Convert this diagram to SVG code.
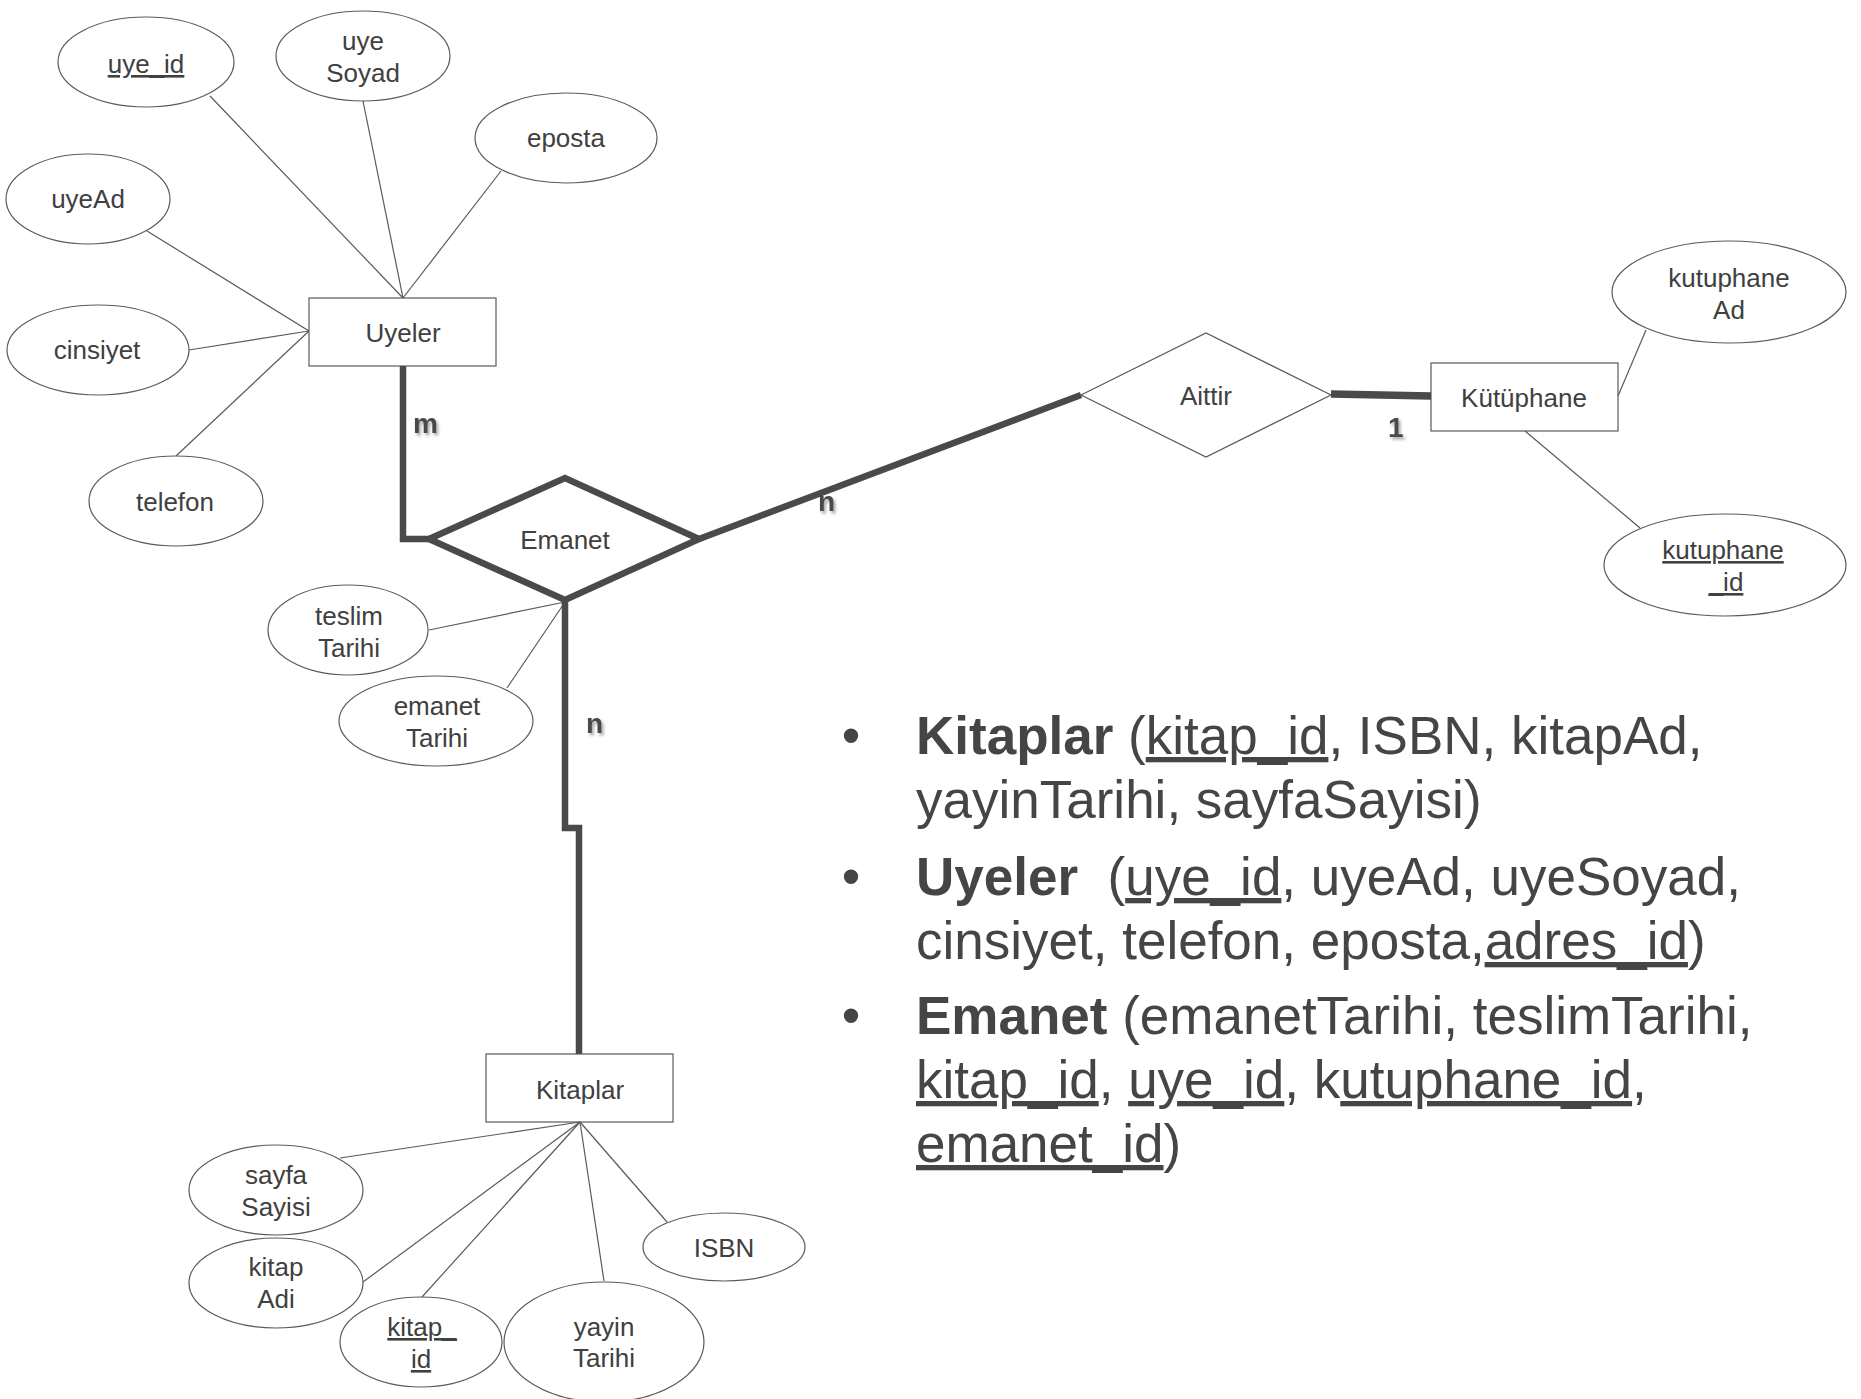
<svg xmlns="http://www.w3.org/2000/svg" width="1861" height="1399" viewBox="0 0 1861 1399">
<defs>
<style>
.bg{fill:#ffffff}
.shape{fill:#ffffff;stroke:#5a5a5a;stroke-width:1.2}
.thin{stroke:#5a5a5a;stroke-width:1.2;fill:none}
.thick{stroke:#4a4a4a;stroke-width:6.5;fill:none;stroke-linejoin:miter}
.lbl{font-family:"Liberation Sans",Arial,sans-serif;font-size:26px;fill:#404040;text-anchor:middle}
.card{font-family:"Liberation Sans",Arial,sans-serif;font-size:28px;font-weight:bold;fill:#4a4a4a;filter:url(#sh)}
.body{font-family:"Liberation Sans",Arial,sans-serif;font-size:53px;fill:#454545}
.u{text-decoration:underline}
</style>
<filter id="sh" x="-50%" y="-50%" width="200%" height="200%">
<feDropShadow dx="2" dy="2.5" stdDeviation="1.5" flood-color="#000000" flood-opacity="0.35"/>
</filter>
</defs>
<rect class="bg" x="0" y="0" width="1861" height="1399"/>

<g id="Uyeler"><rect class="shape" x="309" y="298" width="187" height="68"/><text class="lbl" x="403" y="342">Uyeler</text></g>
<g id="Kutuphane"><rect class="shape" x="1431" y="363" width="187" height="68"/><text class="lbl" x="1524" y="407">Kütüphane</text></g>
<g id="Kitaplar"><rect class="shape" x="486" y="1054" width="187" height="68"/><text class="lbl" x="580" y="1099">Kitaplar</text></g>

<g id="Aittir"><polygon class="shape" points="1081,395 1206,333 1331,395 1206,457"/><text class="lbl" x="1206" y="405">Aittir</text></g>
<g id="Emanet"><polygon class="thick" style="fill:#ffffff" points="429,539 565,478 699,539 565,600"/><text class="lbl" x="565" y="549">Emanet</text></g>

<g id="attr-uye_id"><ellipse class="shape" cx="146" cy="62" rx="88" ry="45"/><text class="lbl u" x="146" y="73">uye_id</text></g>
<g id="attr-uyeSoyad"><ellipse class="shape" cx="363" cy="56" rx="87" ry="45"/><text class="lbl" x="363" y="50">uye</text><text class="lbl" x="363" y="82">Soyad</text></g>
<g id="attr-eposta"><ellipse class="shape" cx="566" cy="138" rx="91" ry="45"/><text class="lbl" x="566" y="147">eposta</text></g>
<g id="attr-uyeAd"><ellipse class="shape" cx="88" cy="199" rx="82" ry="45"/><text class="lbl" x="88" y="208">uyeAd</text></g>
<g id="attr-cinsiyet"><ellipse class="shape" cx="98" cy="350" rx="91" ry="45"/><text class="lbl" x="97" y="359">cinsiyet</text></g>
<g id="attr-telefon"><ellipse class="shape" cx="176" cy="501" rx="87" ry="45"/><text class="lbl" x="175" y="511">telefon</text></g>
<g id="attr-teslimTarihi"><ellipse class="shape" cx="348" cy="630" rx="80" ry="45"/><text class="lbl" x="349" y="625">teslim</text><text class="lbl" x="349" y="657">Tarihi</text></g>
<g id="attr-emanetTarihi"><ellipse class="shape" cx="436" cy="721" rx="97" ry="45"/><text class="lbl" x="437" y="715">emanet</text><text class="lbl" x="437" y="747">Tarihi</text></g>
<g id="attr-kutuphaneAd"><ellipse class="shape" cx="1729" cy="292" rx="117" ry="51"/><text class="lbl" x="1729" y="287">kutuphane</text><text class="lbl" x="1729" y="319">Ad</text></g>
<g id="attr-kutuphane_id"><ellipse class="shape" cx="1725" cy="565" rx="121" ry="51"/><text class="lbl u" x="1723" y="559">kutuphane</text><text class="lbl u" x="1726" y="591">_id</text></g>
<g id="attr-sayfaSayisi"><ellipse class="shape" cx="276" cy="1190" rx="87" ry="45"/><text class="lbl" x="276" y="1184">sayfa</text><text class="lbl" x="276" y="1216">Sayisi</text></g>
<g id="attr-kitapAdi"><ellipse class="shape" cx="276" cy="1283" rx="87" ry="45"/><text class="lbl" x="276" y="1276">kitap</text><text class="lbl" x="276" y="1308">Adi</text></g>
<g id="attr-kitap_id"><ellipse class="shape" cx="421" cy="1342" rx="81" ry="45"/><text class="lbl u" x="422" y="1336">kitap_</text><text class="lbl u" x="421" y="1368">id</text></g>
<g id="attr-yayinTarihi"><ellipse class="shape" cx="604" cy="1342" rx="100" ry="60"/><text class="lbl" x="604" y="1336">yayin</text><text class="lbl" x="604" y="1367">Tarihi</text></g>
<g id="attr-ISBN"><ellipse class="shape" cx="724" cy="1247" rx="81" ry="34"/><text class="lbl" x="724" y="1257">ISBN</text></g>

<g id="cardinalities">
<text class="card" x="413" y="433">m</text>
<text class="card" x="586" y="733">n</text>
<text class="card" x="818" y="511">n</text>
<text class="card" x="1388" y="437">1</text>
</g>

<g id="connectors">
<line class="thin" x1="210" y1="96" x2="403" y2="298"/>
<line class="thin" x1="363" y1="101" x2="403" y2="298"/>
<line class="thin" x1="501" y1="171" x2="403" y2="298"/>
<line class="thin" x1="147" y1="231" x2="309" y2="331"/>
<line class="thin" x1="189" y1="350" x2="309" y2="331"/>
<line class="thin" x1="176" y1="456" x2="309" y2="331"/>
<line class="thin" x1="429" y1="630" x2="565" y2="602"/>
<line class="thin" x1="507" y1="688" x2="565" y2="602"/>
<line class="thin" x1="1646" y1="330" x2="1618" y2="396"/>
<line class="thin" x1="1525" y1="431" x2="1640" y2="528"/>
<line class="thin" x1="340" y1="1158" x2="580" y2="1122"/>
<line class="thin" x1="363" y1="1282" x2="580" y2="1122"/>
<line class="thin" x1="422" y1="1297" x2="580" y2="1122"/>
<line class="thin" x1="604" y1="1281" x2="580" y2="1122"/>
<line class="thin" x1="667" y1="1222" x2="580" y2="1122"/>
<path class="thick" d="M403,366 V539 H431"/>
<path class="thick" d="M565,600 V828 H579 V1054"/>
<line class="thick" x1="699" y1="539" x2="1081" y2="395"/>
<line class="thick" x1="1331" y1="394" x2="1431" y2="396" style="stroke-width:7.5"/>
</g>

<g id="schema-text">
<text class="body" x="851" y="754" text-anchor="middle">•</text>
<text class="body" x="851" y="895" text-anchor="middle">•</text>
<text class="body" x="851" y="1034" text-anchor="middle">•</text>
<text class="body" x="916" y="754" xml:space="preserve"><tspan font-weight="bold">Kitaplar</tspan> (<tspan class="u">kitap_id</tspan>, ISBN, kitapAd,</text>
<text class="body" x="916" y="818">yayinTarihi, sayfaSayisi)</text>
<text class="body" x="916" y="895" xml:space="preserve"><tspan font-weight="bold">Uyeler</tspan>  (<tspan class="u">uye_id</tspan>, uyeAd, uyeSoyad,</text>
<text class="body" x="916" y="959" xml:space="preserve">cinsiyet, telefon, eposta,<tspan class="u">adres_id</tspan>)</text>
<text class="body" x="916" y="1034" xml:space="preserve"><tspan font-weight="bold">Emanet</tspan> (emanetTarihi, teslimTarihi,</text>
<text class="body" x="916" y="1098" xml:space="preserve"><tspan class="u">kitap_id</tspan>, <tspan class="u">uye_id</tspan>, k<tspan class="u">utuphane_id</tspan>,</text>
<text class="body" x="916" y="1162" xml:space="preserve"><tspan class="u">emanet_id</tspan>)</text>
</g>
</svg>
